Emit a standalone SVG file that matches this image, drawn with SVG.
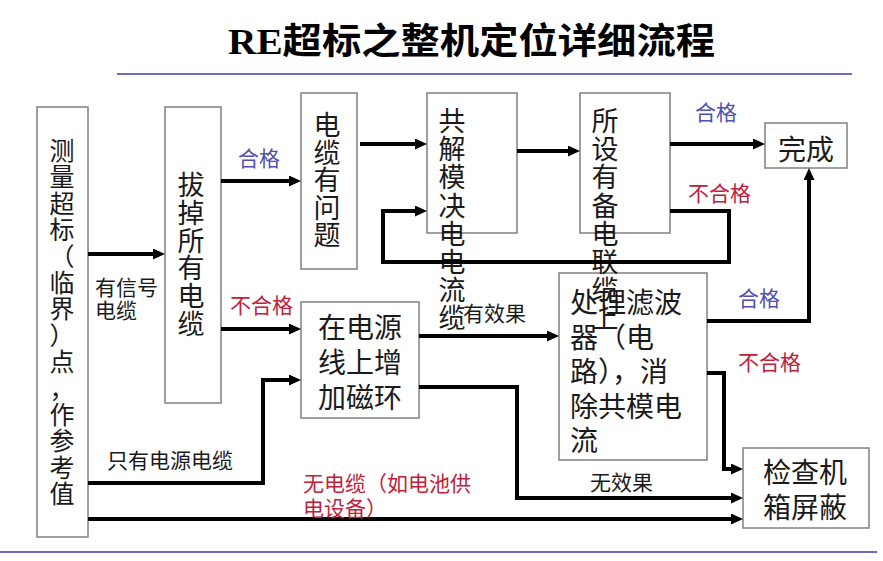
<svg xmlns="http://www.w3.org/2000/svg" width="883" height="561" viewBox="0 0 883 561">
<style>
.box{fill:#fff;stroke:#808080;stroke-width:1.5}
.nt{font-family:"Noto Sans CJK SC","Noto Sans CJK JP",sans-serif;font-size:27px;fill:#1a1a1a}
.ht{font-family:"Noto Sans CJK SC","Noto Sans CJK JP",sans-serif;font-size:28px;fill:#1a1a1a}
.lb{font-family:"Noto Sans CJK SC","Noto Sans CJK JP",sans-serif;font-size:21px;fill:#1a1a1a}
.blue{fill:#5050b0}
.red{fill:#c0203a}
.c{fill:none;stroke:#000;stroke-width:4;marker-end:url(#ah)}
.rule{stroke:#6a6ac0;stroke-width:2}
</style>
<defs>
<marker id="ah" markerUnits="userSpaceOnUse" markerWidth="12" markerHeight="11" refX="0" refY="5.5" orient="auto">
<path d="M0,0 L12,5.5 L0,11 z" fill="#000"/>
</marker>
</defs>
<rect width="883" height="561" fill="#fff"/>
<g id="title">
<text x="228" y="54" textLength="487" lengthAdjust="spacingAndGlyphs" style="font-family:'Liberation Serif','Noto Sans CJK SC',serif;font-size:36px;font-weight:bold;fill:#000">RE超标之整机定位详细流程</text>
<line class="rule" x1="117" y1="74" x2="852" y2="74"/>
<line class="rule" x1="0" y1="552" x2="877" y2="552"/>
</g>
<g id="n1">
<rect class="box" x="37" y="107" width="51" height="430"/>
<text class="nt" style="font-size:25px" text-anchor="middle"><tspan x="62" y="160">测</tspan><tspan x="62" dy="26.4">量</tspan><tspan x="62" dy="26.4">超</tspan><tspan x="62" dy="26.4">标</tspan><tspan x="62" dy="26.4">（</tspan><tspan x="62" dy="26.4">临</tspan><tspan x="62" dy="26.4">界</tspan><tspan x="62" dy="26.4">）</tspan><tspan x="62" dy="26.4">点</tspan><tspan x="62" dy="26.4">，</tspan><tspan x="62" dy="26.4">作</tspan><tspan x="62" dy="26.4">参</tspan><tspan x="62" dy="26.4">考</tspan><tspan x="62" dy="26.4">值</tspan></text>
</g>
<g id="n2">
<rect class="box" x="165" y="107" width="56" height="296"/>
<text class="nt" text-anchor="middle"><tspan x="191" y="195">拔</tspan><tspan x="191" dy="27.8">掉</tspan><tspan x="191" dy="27.8">所</tspan><tspan x="191" dy="27.8">有</tspan><tspan x="191" dy="27.8">电</tspan><tspan x="191" dy="27.8">缆</tspan></text>
</g>
<g id="n3">
<rect class="box" x="301" y="93" width="56" height="176"/>
<text class="nt" text-anchor="middle"><tspan x="327" y="135">电</tspan><tspan x="327" dy="27.5">缆</tspan><tspan x="327" dy="27.5">有</tspan><tspan x="327" dy="27.5">问</tspan><tspan x="327" dy="27.5">题</tspan></text>
</g>
<g id="n7">
<rect class="box" x="301" y="302" width="118" height="116"/>
<text class="ht" text-anchor="middle"><tspan x="360" y="338">在电源</tspan><tspan x="360" y="373">线上增</tspan><tspan x="360" y="408">加磁环</tspan></text>
</g>
<g id="n8">
<rect class="box" x="559" y="273" width="148" height="187"/>
<text class="ht"><tspan x="570" y="313">处理滤波</tspan><tspan x="570" y="347.5">器（电</tspan><tspan x="570" y="382">路），消</tspan><tspan x="570" y="416.5">除共模电</tspan><tspan x="570" y="451">流</tspan></text>
</g>
<g id="n9">
<rect class="box" x="743" y="448" width="126" height="80"/>
<text class="ht" text-anchor="middle"><tspan x="805" y="483">检查机</tspan><tspan x="805" y="518">箱屏蔽</tspan></text>
</g>
<g id="n6">
<rect class="box" x="765" y="123" width="82" height="45"/>
<text class="ht" text-anchor="middle" x="806" y="160">完成</text>
</g>
<g id="n4">
<rect class="box" x="427" y="93" width="90" height="140"/>
<text class="nt" text-anchor="middle"><tspan x="452" y="131">共</tspan><tspan x="452" dy="28.2">解</tspan><tspan x="452" dy="28.2">模</tspan><tspan x="452" dy="28.2">决</tspan><tspan x="452" dy="28.2">电</tspan><tspan x="452" dy="28.2">电</tspan><tspan x="452" dy="28.2">流</tspan><tspan x="452" dy="28.2">缆</tspan></text>
</g>
<g id="n5">
<rect class="box" x="580" y="93" width="90" height="140"/>
<text class="nt" text-anchor="middle"><tspan x="605" y="131">所</tspan><tspan x="605" dy="28.2">设</tspan><tspan x="605" dy="28.2">有</tspan><tspan x="605" dy="28.2">备</tspan><tspan x="605" dy="28.2">电</tspan><tspan x="605" dy="28.2">联</tspan><tspan x="605" dy="28.2">缆</tspan><tspan x="605" dy="28.2">上</tspan></text>
</g>
<g id="connectors">
<path class="c" d="M88,254 H153"/>
<path class="c" d="M221,181 H289"/>
<path class="c" d="M221,329 H289"/>
<path class="c" d="M88,483 H263 V380 H289"/>
<path class="c" d="M88,519 H731"/>
<path class="c" d="M360,144 H415"/>
<path class="c" d="M517,151 H568"/>
<path class="c" d="M670,144 H753"/>
<path class="c" d="M670,211 H729 V262 H383 V211 H415"/>
<path class="c" d="M419,336 H547"/>
<path class="c" d="M419,387 H517 V498 H731"/>
<path class="c" d="M707,321 H809 V180"/>
<path class="c" d="M707,373 H724 V469 H731"/>
</g>
<g id="labels">
<text class="lb"><tspan x="95" y="295">有信号</tspan><tspan x="95" y="318">电缆</tspan></text>
<text class="lb blue" x="238" y="166">合格</text>
<text class="lb red" x="230" y="313">不合格</text>
<text class="lb" x="107" y="468">只有电源电缆</text>
<text class="lb red"><tspan x="303" y="491">无电缆（如电池供</tspan><tspan x="303" y="516">电设备）</tspan></text>
<text class="lb blue" x="695" y="120">合格</text>
<text class="lb red" x="688" y="201">不合格</text>
<text class="lb" x="463" y="321">有效果</text>
<text class="lb" x="590" y="490">无效果</text>
<text class="lb blue" x="738" y="306">合格</text>
<text class="lb red" x="738" y="370">不合格</text>
</g>
</svg>
